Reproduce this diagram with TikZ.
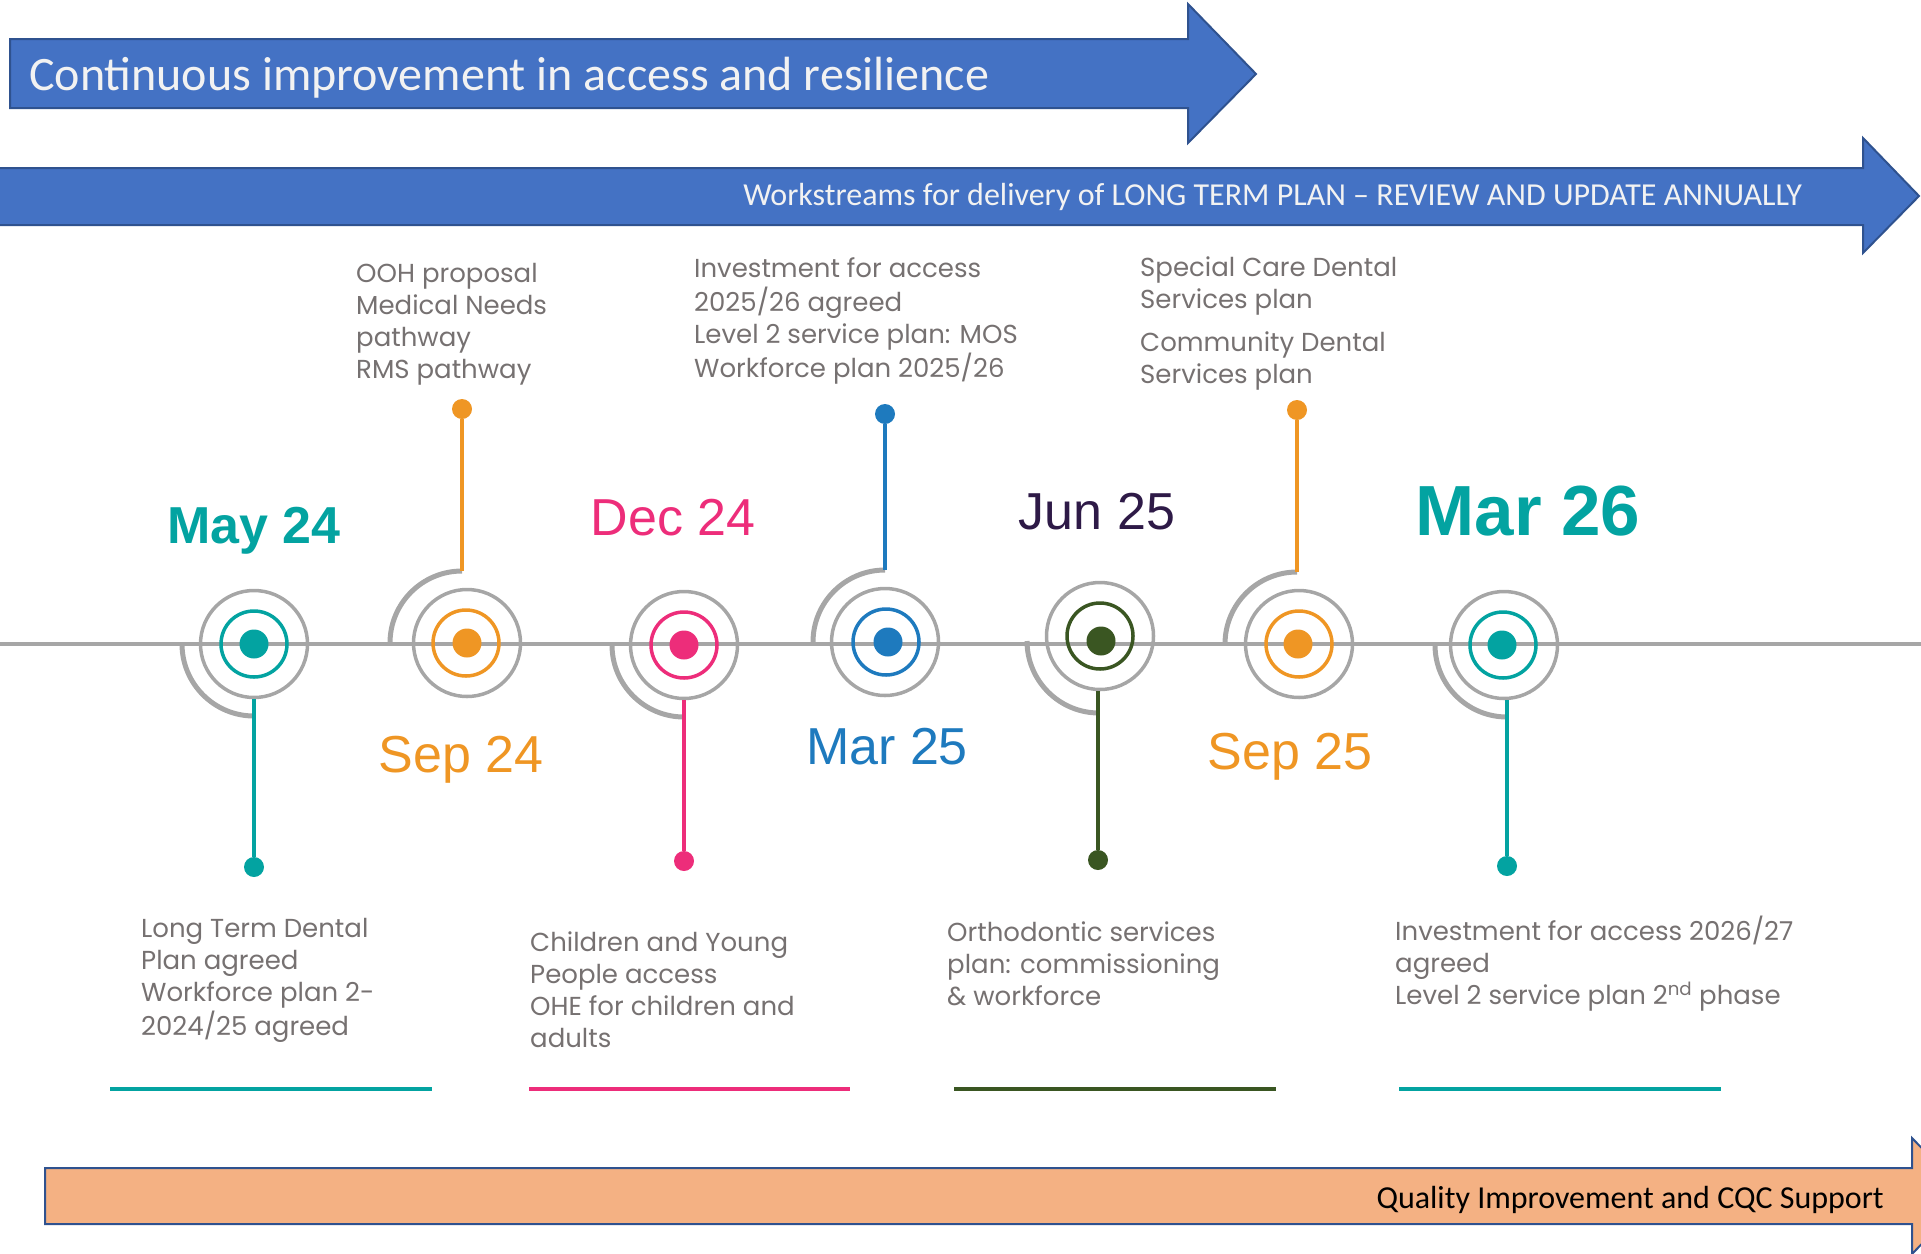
\documentclass[tikz,border=0pt]{standalone}
\usepackage{fontspec}
\setmainfont{Carlito}
\newfontfamily\arialf{Liberation Sans}
\newfontfamily\gothicf{Poppins}
\definecolor{cteal}{RGB}{3,163,161}
\definecolor{corange}{RGB}{239,150,36}
\definecolor{cpink}{RGB}{237,45,122}
\definecolor{cblue}{RGB}{30,122,190}
\definecolor{cgreen}{RGB}{58,86,34}
\definecolor{cpurple}{RGB}{46,26,71}
\definecolor{ringgrey}{RGB}{166,166,166}
\definecolor{txtgrey}{RGB}{118,113,113}
\definecolor{bannerblue}{RGB}{68,114,196}
\definecolor{bannerborder}{RGB}{47,82,143}
\definecolor{peach}{RGB}{244,177,131}
\definecolor{offwhite}{RGB}{242,242,242}
\newcommand{\desclines}[1]{\begin{tabular}[t]{@{}l@{}}#1\end{tabular}}
\begin{document}
\begin{tikzpicture}[x=1pt,y=1pt,
  bannerarrow/.style={draw=bannerborder,line width=2pt,line join=miter},
  bannertext/.style={inner sep=0pt},
  outerring/.style={circle,draw=ringgrey,line width=3.5pt,minimum size=107pt,inner sep=0pt},
  innerring/.style={circle,line width=3.5pt,minimum size=66pt,inner sep=0pt},
  centredot/.style={circle,minimum size=29pt,inner sep=0pt},
  enddot/.style={circle,minimum size=20pt,inner sep=0pt},
  halo/.style={draw=ringgrey,line width=5pt},
  stemline/.style={line width=4pt},
  underline/.style={line width=4pt},
  datebold/.style={inner sep=0pt,anchor=base,font=\arialf\bfseries\fontsize{52}{60}\selectfont},
  datereg/.style={inner sep=0pt,anchor=base,font=\arialf\fontsize{52}{60}\selectfont},
  desctext/.style={inner sep=0pt,anchor=base west,text=txtgrey,font=\gothicf\fontsize{26}{32}\selectfont}
]
\useasboundingbox (0,0) rectangle (1921,-1253);

% banners
\draw[bannerarrow,fill=bannerblue] (10,-39) -- (1188,-39) -- (1188,-4) -- (1256,-74) -- (1188,-143) -- (1188,-108) -- (10,-108) -- cycle;
\node[bannertext,anchor=base west,text=offwhite,font=\fontsize{48}{58}\selectfont] (t1) at (29,-90) {Continuous improvement in access and resilience};

\draw[bannerarrow,fill=bannerblue] (-5,-168) -- (1863,-168) -- (1863,-138) -- (1919,-196) -- (1863,-253) -- (1863,-225) -- (-5,-225) -- cycle;
\node[bannertext,anchor=base east,text=offwhite,font=\fontsize{32}{38}\selectfont] (t2) at (1802,-205) {Workstreams for delivery of LONG TERM PLAN -- REVIEW AND UPDATE ANNUALLY};

\draw[bannerarrow,fill=peach] (45,-1168) -- (1912,-1168) -- (1912,-1138) -- (1968,-1196) -- (1912,-1254) -- (1912,-1224) -- (45,-1224) -- cycle;
\node[bannertext,anchor=base east,text=black,font=\fontsize{32}{38}\selectfont] (t3) at (1884,-1208) {Quality Improvement and CQC Support};

% timeline
\draw[ringgrey,line width=4pt] (0,-644) -- (1921,-644);

% ---- May 24
\draw[halo] (254-72,-644) arc[start angle=180,end angle=270,radius=72];
\node[outerring] (o1) at (254,-644) {};
\node[innerring,draw=cteal] (i1) at (254,-644) {};
\node[centredot,fill=cteal] (c1) at (254,-644) {};
\node[enddot,fill=cteal] (d1) at (254,-867) {};
\draw[stemline,cteal] (d1) -- (d1 |- o1.south);

% ---- Sep 24
\draw[halo] (462-72,-643) arc[start angle=180,end angle=90,radius=72] coordinate (a2);
\node[outerring] (o2) at (467,-643) {};
\node[innerring,draw=corange] (i2) at (466,-643) {};
\node[centredot,fill=corange] (c2) at (467,-643) {};
\node[enddot,fill=corange] (d2) at (462,-409) {};
\draw[stemline,corange] (d2) -- (a2);

% ---- Dec 24
\draw[halo] (684-72,-645) arc[start angle=180,end angle=270,radius=72];
\node[outerring] (o3) at (684,-645) {};
\node[innerring,draw=cpink] (i3) at (684,-645) {};
\node[centredot,fill=cpink] (c3) at (684,-645) {};
\node[enddot,fill=cpink] (d3) at (684,-861) {};
\draw[stemline,cpink] (d3) -- (d3 |- o3.south);

% ---- Mar 25
\draw[halo] (885-72,-642) arc[start angle=180,end angle=90,radius=72] coordinate (a4);
\node[outerring] (o4) at (885,-642) {};
\node[innerring,draw=cblue] (i4) at (886,-642) {};
\node[centredot,fill=cblue] (c4) at (888,-642) {};
\node[enddot,fill=cblue] (d4) at (885,-414) {};
\draw[stemline,cblue] (d4) -- (a4);

% ---- Jun 25
\draw[halo] (1099-72,-641) arc[start angle=180,end angle=270,radius=72];
\node[outerring] (o5) at (1100,-636) {};
\node[innerring,draw=cgreen] (i5) at (1100,-636) {};
\node[centredot,fill=cgreen] (c5) at (1101,-641) {};
\node[enddot,fill=cgreen] (d5) at (1098,-860) {};
\draw[stemline,cgreen] (d5) -- (d5 |- o5.south);

% ---- Sep 25
\draw[halo] (1297-72,-644) arc[start angle=180,end angle=90,radius=72] coordinate (a6);
\node[outerring] (o6) at (1299,-644) {};
\node[innerring,draw=corange] (i6) at (1299,-644) {};
\node[centredot,fill=corange] (c6) at (1298,-644) {};
\node[enddot,fill=corange] (d6) at (1297,-410) {};
\draw[stemline,corange] (d6) -- (a6);

% ---- Mar 26
\draw[halo] (1507-72,-645) arc[start angle=180,end angle=270,radius=72];
\node[outerring] (o7) at (1504,-645) {};
\node[innerring,draw=cteal] (i7) at (1503,-645) {};
\node[centredot,fill=cteal] (c7) at (1502,-645) {};
\node[enddot,fill=cteal] (d7) at (1507,-866) {};
\draw[stemline,cteal] (d7) -- (d7 |- o7.south);

% dates
\node[datebold,text=cteal] (l1) at (254,-543) {May 24};
\node[datereg,text=corange] (l2) at (461,-772) {Sep 24};
\node[datereg,text=cpink] (l3) at (673,-535) {Dec 24};
\node[datereg,text=cblue] (l4) at (887,-764) {Mar 25};
\node[datereg,text=cpurple] (l5) at (1097,-529) {Jun 25};
\node[datereg,text=corange] (l6) at (1290,-769) {Sep 25};
\node[datebold,text=cteal,font=\arialf\bfseries\fontsize{71}{80}\selectfont] (l7) at (1528,-535) {Mar 26};

% descriptions
\node[desctext] (e2) at (356,-282) {\desclines{OOH proposal\\Medical Needs\\pathway\\RMS pathway}};
\node[desctext] (e4) at (694,-277) {\desclines{Investment for access\\2025/26 agreed\\Level 2 service plan: MOS\\Workforce plan 2025/26}};
\node[desctext] (e6) at (1140,-276) {\desclines{Special Care Dental\\Services plan\\[11pt]Community Dental\\Services plan}};
\node[desctext] (e1) at (141,-937) {\desclines{Long Term Dental\\Plan agreed\\Workforce plan 2-\\2024/25 agreed}};
\node[desctext] (e3) at (530,-951) {\desclines{Children and Young\\People access\\OHE for children and\\adults}};
\node[desctext] (e5) at (947,-941) {\desclines{Orthodontic services\\plan: commissioning\\\& workforce}};
\node[desctext] (e7) at (1395,-940) {\desclines{Investment for access 2026/27\\agreed\\Level 2 service plan 2\textsuperscript{nd} phase}};

% underlines
\draw[underline,cteal] (110,-1089) -- (432,-1089);
\draw[underline,cpink] (529,-1089) -- (850,-1089);
\draw[underline,cgreen] (954,-1089) -- (1276,-1089);
\draw[underline,cteal] (1399,-1089) -- (1721,-1089);
\end{tikzpicture}
\end{document}
